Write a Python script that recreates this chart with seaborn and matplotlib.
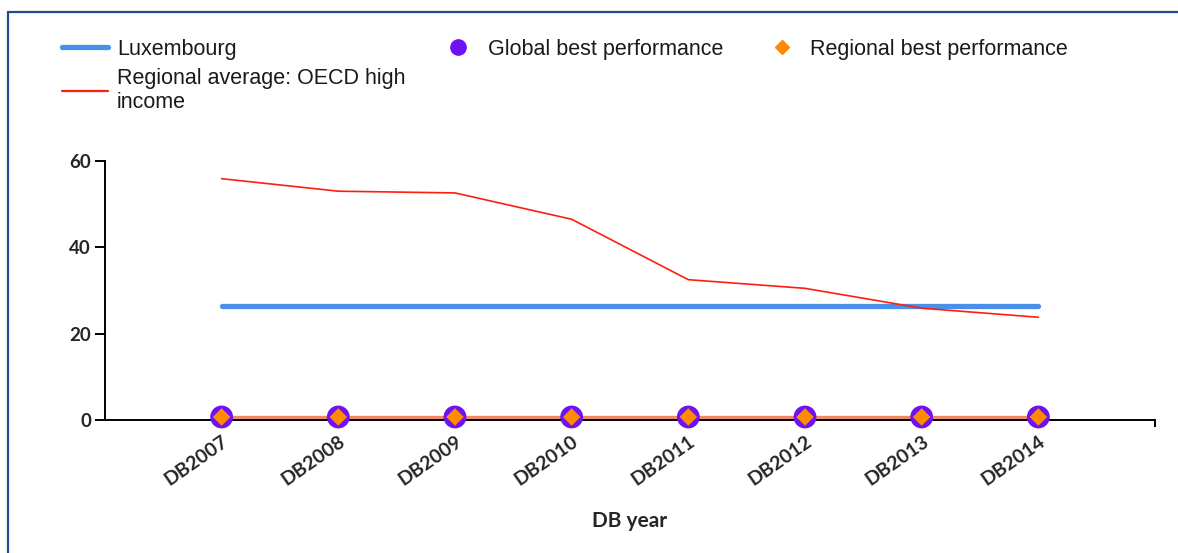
import pandas as pd
import seaborn as sns
import matplotlib.pyplot as plt
from matplotlib.lines import Line2D

# Данные
years = ['DB2007', 'DB2008', 'DB2009', 'DB2010', 'DB2011', 'DB2012', 'DB2013', 'DB2014']
luxembourg = [26.3, 26.3, 26.3, 26.3, 26.3, 26.3, 26.3, 26.3]
regional_avg = [55.9, 53.0, 52.6, 46.5, 32.5, 30.5, 25.9, 23.8]
global_best = [0.7, 0.7, 0.7, 0.7, 0.7, 0.7, 0.7, 0.7]
regional_best = [0.7, 0.7, 0.7, 0.7, 0.7, 0.7, 0.7, 0.7]

df = pd.DataFrame({'year': years, 'lux': luxembourg, 'reg': regional_avg,
                   'gbest': global_best, 'rbest': regional_best})

c_lux = '#4A8FEA'
c_reg = '#FF1E0E'
c_rline = '#EE8A66'
c_glob = '#6F12F2'
c_rbest = '#FF8C00'

sns.set_style('white')
plt.rcParams['font.family'] = ['Liberation Sans', 'DejaVu Sans']

fig = plt.figure(figsize=(11.78, 5.53), dpi=100)
ax = fig.add_axes([0.0891, 0.2405, 0.8914, 0.4684])

sns.lineplot(data=df, x='year', y='lux', ax=ax, color=c_lux, linewidth=3.8, sort=False)
sns.lineplot(data=df, x='year', y='reg', ax=ax, color=c_reg, linewidth=1.2, sort=False)
sns.lineplot(data=df, x='year', y='rbest', ax=ax, color=c_rline, linewidth=2.4, sort=False)
sns.scatterplot(data=df, x='year', y='gbest', ax=ax, color=c_glob, s=270,
                edgecolor='none', zorder=5, clip_on=False)
sns.scatterplot(data=df, x='year', y='rbest', ax=ax, color=c_rbest, marker='D', s=80,
                edgecolor='none', zorder=6, clip_on=False)

ax.set_xlim(-1, 8)
ax.set_ylim(0, 60)
ax.set_yticks([0, 20, 40, 60])
ax.set_xticks(range(len(years)))
ax.set_xticks([8], minor=True)
ax.set_xticklabels(years, rotation=35, ha='right', rotation_mode='anchor',
                   fontsize=14, fontweight='bold', family='Lato')
for lab in ax.get_yticklabels():
    lab.set_fontsize(13.5)
    lab.set_fontweight('bold')
    lab.set_family('Lato')
ax.set_xlabel('DB year', fontsize=15, fontweight='bold', family='Lato', labelpad=16)
ax.set_ylabel('')

sns.despine(ax=ax)
for side in ['left', 'bottom']:
    ax.spines[side].set_color('black')
    ax.spines[side].set_linewidth(1.4)
ax.tick_params(axis='y', direction='out', length=7, width=1.4, color='black', pad=3, left=True)
ax.tick_params(axis='x', which='both', direction='out', length=5, width=1.4,
               color='black', pad=4, bottom=True)
ax.grid(False)

# Легенда
h_lux = Line2D([], [], color=c_lux, linewidth=3.8)
h_reg = Line2D([], [], color=c_reg, linewidth=1.6)
h_glob = Line2D([], [], color=c_glob, marker='o', linestyle='none', markersize=11)
h_rbest = Line2D([], [], color=c_rbest, marker='D', linestyle='none', markersize=7)

leg_kw = dict(frameon=False, fontsize=15.5, labelspacing=0.38, borderaxespad=0,
              borderpad=0, labelcolor='#1a1a1a')
fig.legend([h_lux, h_reg], ['Luxembourg', 'Regional average: OECD high\nincome'],
           loc='upper left', bbox_to_anchor=(0.0526, 0.9296),
           handlelength=2.14, handletextpad=0.42, **leg_kw)
fig.legend([h_glob], ['Global best performance'],
           loc='upper left', bbox_to_anchor=(0.3795, 0.9296),
           handlelength=1.0, handletextpad=0.9, **leg_kw)
fig.legend([h_rbest], ['Regional best performance'],
           loc='upper left', bbox_to_anchor=(0.6547, 0.9296),
           handlelength=1.0, handletextpad=0.82, **leg_kw)

# Рамка
fig.add_artist(Line2D([0.007, 0.007], [0, 0.978], color='#1F4E8C', linewidth=1.6))
fig.add_artist(Line2D([0.007, 1], [0.978, 0.978], color='#1F4E8C', linewidth=1.6))

plt.savefig('out.png', dpi=100)
